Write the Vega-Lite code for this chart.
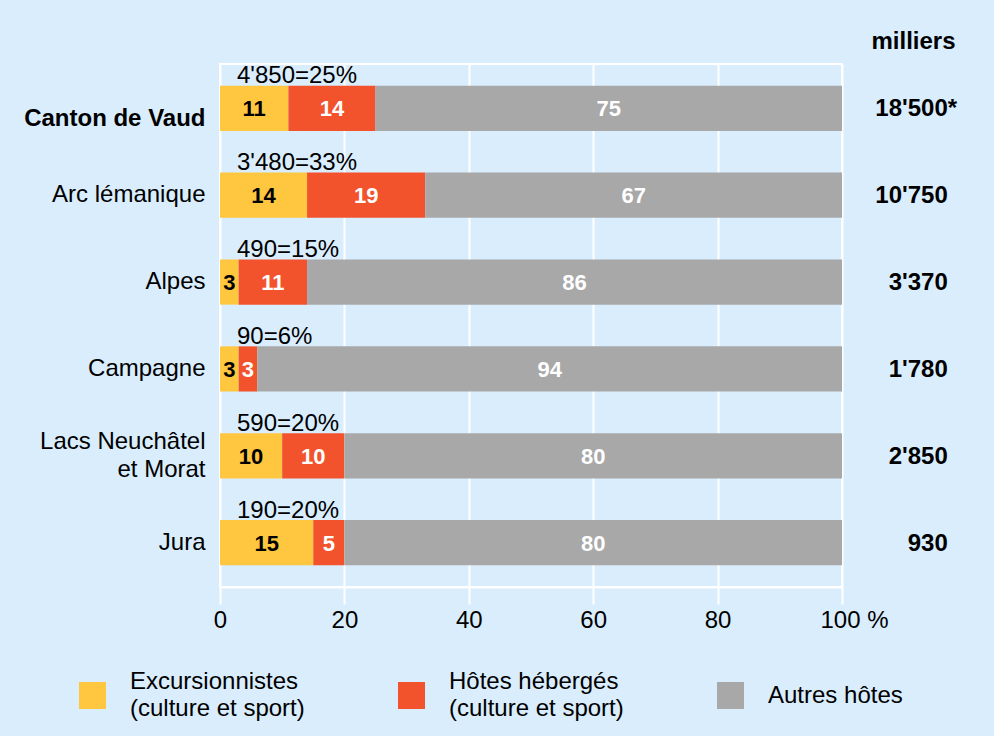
{
  "$schema": "https://vega.github.io/schema/vega-lite/v6.json",
  "width": 622,
  "height": 523,
  "autosize": "none",
  "padding": {"left": 220, "top": 64, "right": 152, "bottom": 149},
  "background": "#D9EDFD",
  "config": {
    "font": "Liberation Sans",
    "view": {"stroke": "white", "strokeWidth": 2},
    "style": {"guide-label": {"lineHeight": 27}}
  },
  "datasets": {
    "seg": [
      {"region": "Canton de Vaud", "cat": "Excursionnistes", "value": 11, "order": 1},
      {"region": "Canton de Vaud", "cat": "Hôtes hébergés", "value": 14, "order": 2},
      {"region": "Canton de Vaud", "cat": "Autres hôtes", "value": 75, "order": 3},
      {"region": "Arc lémanique", "cat": "Excursionnistes", "value": 14, "order": 1},
      {"region": "Arc lémanique", "cat": "Hôtes hébergés", "value": 19, "order": 2},
      {"region": "Arc lémanique", "cat": "Autres hôtes", "value": 67, "order": 3},
      {"region": "Alpes", "cat": "Excursionnistes", "value": 3, "order": 1},
      {"region": "Alpes", "cat": "Hôtes hébergés", "value": 11, "order": 2},
      {"region": "Alpes", "cat": "Autres hôtes", "value": 86, "order": 3},
      {"region": "Campagne", "cat": "Excursionnistes", "value": 3, "order": 1},
      {"region": "Campagne", "cat": "Hôtes hébergés", "value": 3, "order": 2},
      {"region": "Campagne", "cat": "Autres hôtes", "value": 94, "order": 3},
      {"region": "Lacs Neuchâtel et Morat", "cat": "Excursionnistes", "value": 10, "order": 1},
      {"region": "Lacs Neuchâtel et Morat", "cat": "Hôtes hébergés", "value": 10, "order": 2},
      {"region": "Lacs Neuchâtel et Morat", "cat": "Autres hôtes", "value": 80, "order": 3},
      {"region": "Jura", "cat": "Excursionnistes", "value": 15, "order": 1},
      {"region": "Jura", "cat": "Hôtes hébergés", "value": 5, "order": 2},
      {"region": "Jura", "cat": "Autres hôtes", "value": 80, "order": 3}
    ],
    "reg": [
      {"region": "Canton de Vaud", "share": "4'850=25%", "total": "18'500", "note": "*"},
      {"region": "Arc lémanique", "share": "3'480=33%", "total": "10'750", "note": ""},
      {"region": "Alpes", "share": "490=15%", "total": "3'370", "note": ""},
      {"region": "Campagne", "share": "90=6%", "total": "1'780", "note": ""},
      {"region": "Lacs Neuchâtel et Morat", "share": "590=20%", "total": "2'850", "note": ""},
      {"region": "Jura", "share": "190=20%", "total": "930", "note": ""}
    ]
  },
  "layer": [
    {
      "data": {"name": "seg"},
      "mark": {"type": "bar"},
      "encoding": {
        "y": {
          "field": "region", "type": "nominal",
          "sort": ["Canton de Vaud", "Arc lémanique", "Alpes", "Campagne", "Lacs Neuchâtel et Morat", "Jura"],
          "scale": {"paddingInner": 0.48, "paddingOuter": 0.25},
          "axis": {
            "title": null, "domain": false, "ticks": false, "grid": false,
            "labelFontSize": 24, "labelColor": "black", "labelPadding": 15,
            "labelLineHeight": 28, "labelLimit": 300,
            "labelFontWeight": {"condition": {"test": "datum.value == 'Canton de Vaud'", "value": "bold"}, "value": "normal"},
            "labelOffset": {"condition": [{"test": "datum.value == 'Canton de Vaud'", "value": 11}, {"test": "datum.value == 'Lacs Neuchâtel et Morat'", "value": -14}], "value": 0},
            "labelExpr": "datum.value == 'Lacs Neuchâtel et Morat' ? ['Lacs Neuchâtel', 'et Morat'] : datum.label"
          }
        },
        "x": {
          "field": "value", "type": "quantitative", "stack": "zero",
          "scale": {"domain": [0, 100], "nice": false},
          "axis": {
            "title": null, "values": [0, 20, 40, 60, 80, 100],
            "grid": true, "gridColor": "white", "gridWidth": 2, "gridOpacity": 1,
            "domainColor": "white", "domainWidth": 2,
            "tickColor": "white", "tickWidth": 2, "tickSize": 17,
            "labelFontSize": 24, "labelColor": "black", "labelPadding": 4,
            "labelExpr": "datum.value == 100 ? '100 %' : datum.label",
            "labelAlign": {"condition": {"test": "datum.value == 100", "value": "left"}, "value": "center"},
            "labelOffset": {"condition": {"test": "datum.value == 100", "value": -22}, "value": 0}
          }
        },
        "color": {
          "field": "cat", "type": "nominal",
          "scale": {"domain": ["Excursionnistes", "Hôtes hébergés", "Autres hôtes"], "range": ["#FFC63F", "#F2522C", "#A8A8A8"]},
          "legend": {
            "title": null, "orient": "none", "legendX": -141, "legendY": 618,
            "direction": "horizontal", "symbolType": "square", "symbolSize": 729,
            "symbolStrokeWidth": 0, "symbolOpacity": 1,
            "labelFontSize": 24, "labelColor": "black", "labelOffset": 24, "columnPadding": 93,
            "labelLimit": 400,
            "labelExpr": "datum.label == 'Autres hôtes' ? datum.label : [datum.label, '(culture et sport)']",
            "encode": {
              "labels": {"update": {"dy": {"signal": "datum.value == 'Autres hôtes' ? -12 : -13.5"}}},
              "symbols": {"update": {"y": {"signal": "datum.value == 'Autres hôtes' ? 1.5 : 13.5"}}}
            }
          }
        },
        "order": {"field": "order", "type": "quantitative"}
      }
    },
    {
      "data": {"name": "seg"},
      "transform": [
        {"stack": "value", "groupby": ["region"], "sort": [{"field": "order"}], "as": ["v0", "v1"]},
        {"calculate": "(datum.v0 + datum.v1) / 2", "as": "mid"}
      ],
      "mark": {"type": "text", "fontWeight": "bold", "fontSize": 22, "dy": 1},
      "encoding": {
        "y": {"field": "region", "type": "nominal", "sort": ["Canton de Vaud", "Arc lémanique", "Alpes", "Campagne", "Lacs Neuchâtel et Morat", "Jura"]},
        "x": {"field": "mid", "type": "quantitative"},
        "text": {"field": "value"},
        "color": {"condition": {"test": "datum.cat == 'Excursionnistes'", "value": "black"}, "value": "white"}
      }
    },
    {
      "data": {"name": "reg"},
      "mark": {"type": "text", "fontSize": 24, "align": "left", "dx": 17, "dy": -32, "color": "black"},
      "encoding": {
        "y": {"field": "region", "type": "nominal", "sort": ["Canton de Vaud", "Arc lémanique", "Alpes", "Campagne", "Lacs Neuchâtel et Morat", "Jura"]},
        "x": {"datum": 0},
        "text": {"field": "share"}
      }
    },
    {
      "data": {"name": "reg"},
      "mark": {"type": "text", "fontSize": 24, "fontWeight": "bold", "align": "right", "dy": 1, "color": "black"},
      "encoding": {
        "y": {"field": "region", "type": "nominal", "sort": ["Canton de Vaud", "Arc lémanique", "Alpes", "Campagne", "Lacs Neuchâtel et Morat", "Jura"]},
        "x": {"datum": 117},
        "text": {"field": "total"}
      }
    },
    {
      "data": {"name": "reg"},
      "mark": {"type": "text", "fontSize": 24, "fontWeight": "bold", "align": "left", "dy": 1, "color": "black"},
      "encoding": {
        "y": {"field": "region", "type": "nominal", "sort": ["Canton de Vaud", "Arc lémanique", "Alpes", "Campagne", "Lacs Neuchâtel et Morat", "Jura"]},
        "x": {"datum": 117},
        "text": {"field": "note"}
      }
    },
    {
      "data": {"values": [{"t": "milliers"}]},
      "mark": {"type": "text", "fontSize": 24, "fontWeight": "bold", "align": "center", "dy": -66, "color": "black"},
      "encoding": {
        "y": {"datum": "Canton de Vaud"},
        "x": {"datum": 111.5},
        "text": {"field": "t"}
      }
    }
  ]
}
